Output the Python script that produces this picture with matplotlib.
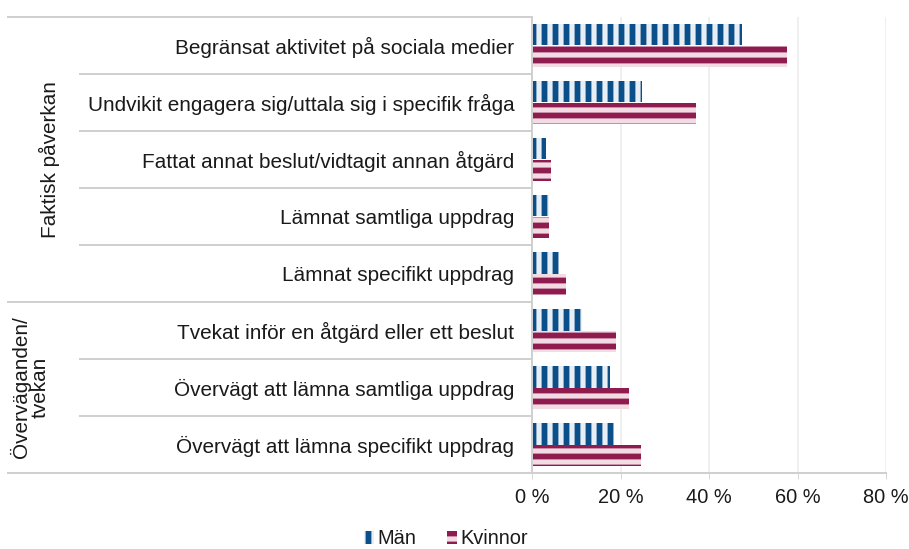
import matplotlib.pyplot as plt
import numpy as np

# survey answers, share of respondents (%)
categories = [
    "Begränsat aktivitet på sociala medier",
    "Undvikit engagera sig/uttala sig i specifik fråga",
    "Fattat annat beslut/vidtagit annan åtgärd",
    "Lämnat samtliga uppdrag",
    "Lämnat specifikt uppdrag",
    "Tvekat inför en åtgärd eller ett beslut",
    "Övervägt att lämna samtliga uppdrag",
    "Övervägt att lämna specifikt uppdrag",
]
man = [47.5, 24.7, 3.0, 3.8, 6.1, 11.2, 17.6, 18.5]
kvinnor = [57.6, 37.0, 4.2, 3.7, 7.6, 18.9, 21.9, 24.5]

groups = ["Faktisk påverkan", "Överväganden/\ntvekan"]
group_sizes = [5, 3]

xticks = [0, 20, 40, 60, 80]

DPI = 66
def pt(px):
    # pixel size -> points at this dpi
    return px * 72 / DPI

plt.rcParams['font.family'] = ['Liberation Sans', 'DejaVu Sans']
plt.rcParams['hatch.linewidth'] = pt(5.8)
txt = '#1a1a1a'
fs = pt(20.8)

fig = plt.figure(figsize=(909 / DPI, 549 / DPI), dpi=DPI)
ax = fig.add_axes([532.3 / 909, 76 / 549, 353.7 / 909, 456 / 549])

y = np.arange(len(categories))
h = 0.37
ax.barh(y - h / 2, man, height=h, color='#e8eef6', edgecolor='#0b4f8a',
        hatch='|', linewidth=0, label='Män')
ax.barh(y + h / 2, kvinnor, height=h, color='#f3dbe4', edgecolor='#8e1c4e',
        hatch='-', linewidth=0, label='Kvinnor')

ax.set_xlim(0, 80)
ax.set_ylim(len(categories) - 0.5, -0.5)
ax.set_xticks(xticks)
ax.set_xticklabels([f"{v} %" for v in xticks], fontsize=pt(20), color=txt)
ax.tick_params(axis='x', length=pt(6), color='#c8c8c8', pad=pt(9))
ax.set_yticks(y)
ax.set_yticklabels(categories, fontsize=fs, color=txt)
ax.tick_params(axis='y', length=0, pad=pt(18))
ax.grid(axis='x', color='#efefef', linewidth=pt(2))
ax.set_axisbelow(True)
for s in ['top', 'right']:
    ax.spines[s].set_visible(False)
ax.spines['left'].set_color('#d0d0d0')
ax.spines['bottom'].set_color('#d0d0d0')
ax.spines['left'].set_linewidth(pt(2))
ax.spines['bottom'].set_linewidth(pt(2))

# separator lines left of the axis
tr = ax.get_yaxis_transform()
inner_x = (80 - 532.3) / 353.7
outer_x = (8 - 532.3) / 353.7
edges = np.cumsum([0] + group_sizes) - 0.5
for b in np.arange(len(categories) + 1) - 0.5:
    x0 = outer_x if b in edges else inner_x
    ax.plot([x0, 0], [b, b], transform=tr, color='#d0d0d0',
            linewidth=pt(2), clip_on=False)

# group labels
label_x = [(49 - 532.3) / 353.7, (30 - 532.3) / 353.7]
for i, g in enumerate(groups):
    mid = (edges[i] + edges[i + 1]) / 2
    ax.text(label_x[i], mid, g, transform=tr, rotation=90, ha='center',
            va='center', fontsize=fs, color=txt, linespacing=1.0)

fig.legend(loc='center', bbox_to_anchor=(446 / 909, 10 / 549), ncol=2,
           frameon=False, fontsize=pt(20), handlelength=0.5, handleheight=0.6,
           handletextpad=0.2, columnspacing=1.5, labelcolor=txt)

fig.savefig('out.png', dpi=DPI)
